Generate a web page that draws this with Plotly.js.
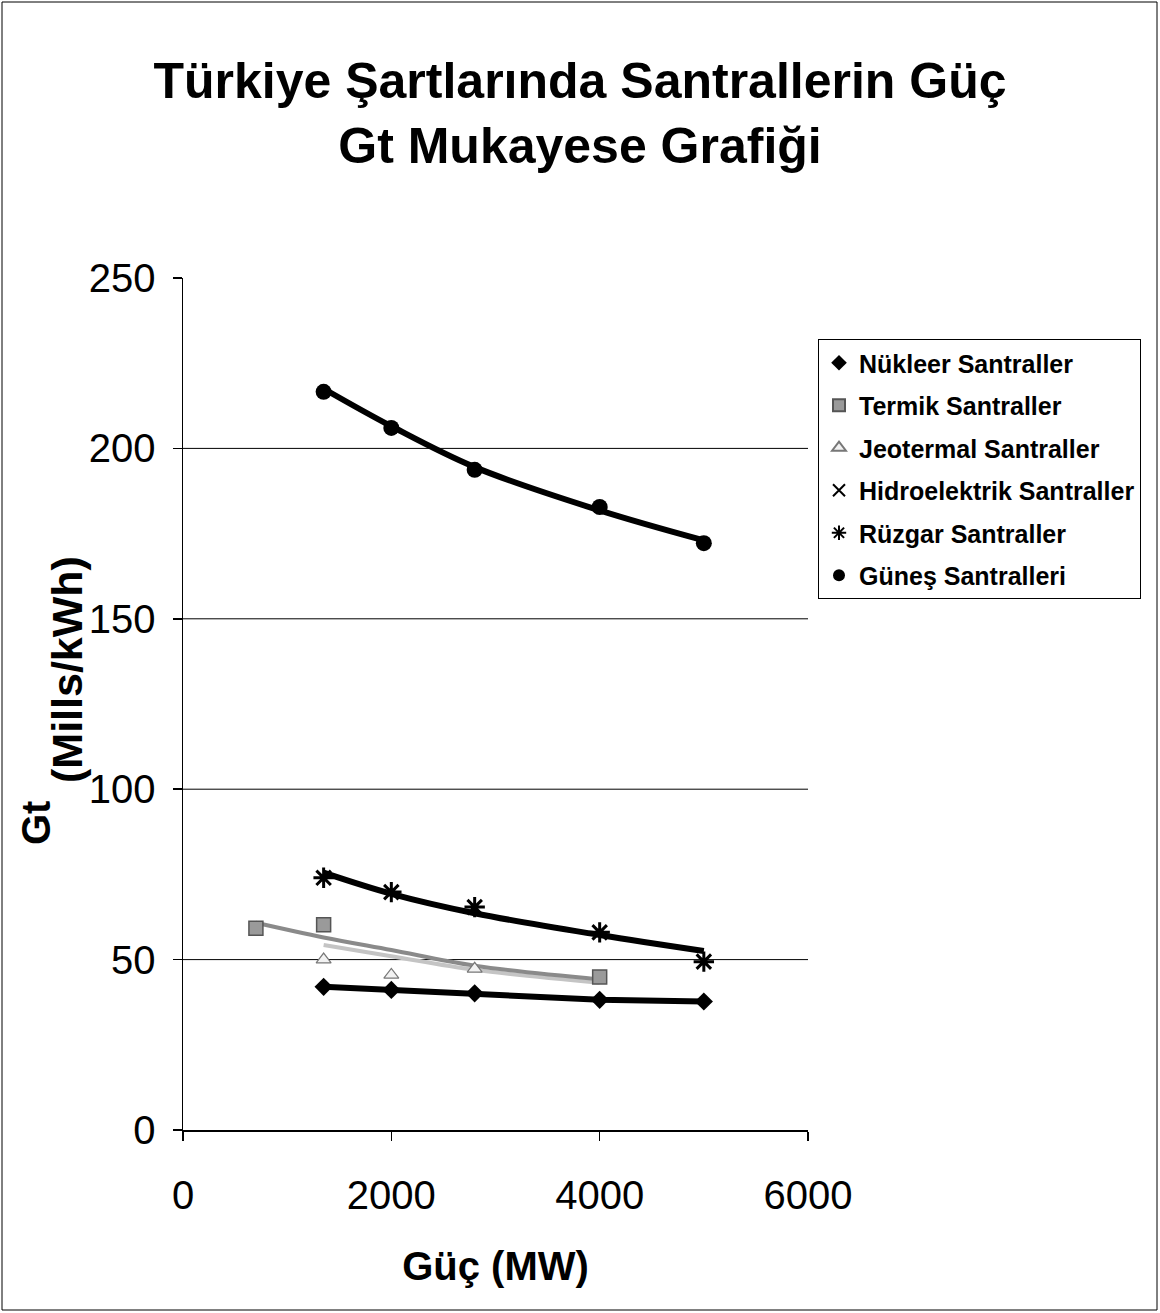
<!DOCTYPE html>
<html>
<head>
<meta charset="utf-8">
<script src="https://cdn.plot.ly/plotly-3.0.1.min.js"></script>
<style>html,body{margin:0;padding:0;background:#fff;}#chart{width:1160px;height:1313px;}</style>
</head>
<body>
<div id="chart"></div>
<script>
// ---- data ----
const seriesNames = ["Nükleer Santraller", "Termik Santraller", "Jeotermal Santraller",
                     "Hidroelektrik Santraller", "Rüzgar Santraller", "Güneş Santralleri"];

const nukleerX = [1350, 2000, 2800, 4000, 5000];
const nukleerY = [42.0, 41.1, 40.1, 38.2, 37.7];

const termikX = [700, 1350, 4000];
const termikY = [59.2, 60.2, 44.9];
const termikTrendX = [700, 1350, 2000, 2800, 4000];
const termikTrendY = [60.8, 56.5, 52.8, 48.2, 44.2];

const jeotermalX = [1350, 2000, 2800];
const jeotermalY = [50.0, 45.5, 47.3];
const jeotermalTrendX = [1350, 2000, 2800, 4000];
const jeotermalTrendY = [54.3, 51.0, 47.0, 43.2];

const hidroX = [null];
const hidroY = [null];

const ruzgarX = [1350, 2000, 2800, 4000, 5000];
const ruzgarY = [74.0, 69.8, 65.4, 58.0, 49.4];
const ruzgarTrendY = [75.5, 69.3, 63.6, 57.2, 52.5];

const gunesX = [1350, 2000, 2800, 4000, 5000];
const gunesY = [216.6, 206.0, 193.7, 182.8, 172.2];
const gunesTrendY = [217.5, 206.5, 194.5, 181.8, 173.0];

const xTicks = [0, 2000, 4000, 6000];
const yTicks = [0, 50, 100, 150, 200, 250];
const gridY = [50, 100, 150, 200];

const titleText = "Türkiye Şartlarında Santrallerin Güç<br>Gt Mukayese Grafiği";
const xTitle = "Güç (MW)";
const yTitleMain = "Gt";
const yTitleSub = "(Mills/kWh)";

// ---- traces ----
const FONT = "Arial, 'Liberation Sans', sans-serif";
const traces = [
  {x: jeotermalTrendX, y: jeotermalTrendY, mode: "lines", line: {color: "#c4c4c4", width: 4, shape: "spline"}, showlegend: false, hoverinfo: "skip"},
  {x: termikTrendX, y: termikTrendY, mode: "lines", line: {color: "#8a8a8a", width: 4, shape: "spline"}, showlegend: false, hoverinfo: "skip"},
  {x: nukleerX, y: nukleerY, mode: "lines", line: {color: "#000", width: 6}, showlegend: false, hoverinfo: "skip"},
  {x: ruzgarX, y: ruzgarTrendY, mode: "lines", line: {color: "#000", width: 6, shape: "spline"}, showlegend: false, hoverinfo: "skip"},
  {x: gunesX, y: gunesTrendY, mode: "lines", line: {color: "#000", width: 6, shape: "spline"}, showlegend: false, hoverinfo: "skip"},

  {x: nukleerX, y: nukleerY, name: seriesNames[0], legendgroup: "g0", mode: "markers",
   marker: {symbol: "diamond", size: 14, color: "#000"}},
  {x: termikX, y: termikY, name: seriesNames[1], legendgroup: "g1", mode: "markers",
   marker: {symbol: "square", size: 14, color: "#9a9a9a", line: {color: "#555", width: 1.5}}},
  {x: jeotermalX, y: jeotermalY, name: seriesNames[2], legendgroup: "g2", mode: "markers",
   marker: {symbol: "triangle-up", size: 13, color: "#f2f2f2", line: {color: "#777", width: 1.2}}},
  {x: hidroX, y: hidroY, name: seriesNames[3], legendgroup: "g3", mode: "markers",
   marker: {symbol: "x-thin", size: 12, color: "#000", line: {color: "#000", width: 1.5}}},
  {x: ruzgarX, y: ruzgarY, name: seriesNames[4], legendgroup: "g4", mode: "markers",
   marker: {symbol: "asterisk", size: 17, color: "#000", line: {color: "#000", width: 3}}},
  {x: gunesX, y: gunesY, name: seriesNames[5], legendgroup: "g5", mode: "markers",
   marker: {symbol: "circle", size: 16, color: "#000"}}
];

// ---- layout ----
const L = 183, R = 352, T = 278, B = 183, W = 1160, H = 1313;
const pw = W - L - R, ph = H - T - B;
const px2x = p => (p - L) / pw;
const py2y = p => (H - B - p) / ph;

const shapes = gridY.map(v => ({type: "line", xref: "paper", yref: "y", x0: 0, x1: 1, y0: v, y1: v,
  line: {color: "#000", width: 1}, layer: "below"}));
shapes.push({type: "rect", xref: "paper", yref: "paper",
  x0: px2x(2), x1: px2x(1157), y0: py2y(1310), y1: py2y(2),
  line: {color: "#000", width: 1}, fillcolor: "rgba(0,0,0,0)"});

const layout = {
  width: W, height: H,
  margin: {l: L, r: R, t: T, b: B, pad: 0, autoexpand: false},
  paper_bgcolor: "#fff", plot_bgcolor: "#fff",
  font: {family: FONT, color: "#000"},
  title: {text: titleText, font: {family: FONT, size: 50, weight: "bold", color: "#000"},
          x: 0.5, xref: "container", xanchor: "center", y: 1 - 98 / H, yref: "container", yanchor: "top"},
  xaxis: {range: [0, 6000], tickvals: xTicks, ticktext: xTicks.map(String),
          showgrid: false, zeroline: false, showline: true, linecolor: "#000", linewidth: 1.5,
          ticks: "outside", ticklen: 9, tickwidth: 1.5, tickcolor: "#000",
          tickfont: {family: FONT, size: 40, color: "#000"}, ticklabelstandoff: 20,
          title: {text: xTitle, font: {family: FONT, size: 40, weight: "bold", color: "#000"}, standoff: 36}},
  yaxis: {range: [0, 250], tickvals: yTicks, ticktext: yTicks.map(String),
          showgrid: false, zeroline: false, showline: true, linecolor: "#000", linewidth: 1.5,
          ticks: "outside", ticklen: 9, tickwidth: 1.5, tickcolor: "#000",
          tickfont: {family: FONT, size: 40, color: "#000"}, ticklabelstandoff: 9},
  legend: {xref: "container", yref: "container", x: 818 / W, y: 1 - 339 / H, xanchor: "left", yanchor: "top",
           bordercolor: "#000", borderwidth: 1, bgcolor: "#fff",
           font: {family: FONT, size: 25, weight: "bold", color: "#000"},
           itemsizing: "constant", itemwidth: 30, traceorder: "grouped", tracegroupgap: 7},
  shapes: shapes,
  annotations: [
    {text: yTitleMain, xref: "paper", yref: "paper", x: px2x(36), y: py2y(823), xanchor: "center", yanchor: "middle",
     textangle: -90, showarrow: false, font: {family: FONT, size: 40, weight: "bold", color: "#000"}},
    {text: yTitleSub, xref: "paper", yref: "paper", x: px2x(67), y: py2y(670), xanchor: "center", yanchor: "middle",
     textangle: -90, showarrow: false, font: {family: FONT, size: 43, weight: "bold", color: "#000"}}
  ],
  showlegend: true
};

Plotly.newPlot("chart", traces, layout, {displayModeBar: false, staticPlot: true});
</script>
</body>
</html>
